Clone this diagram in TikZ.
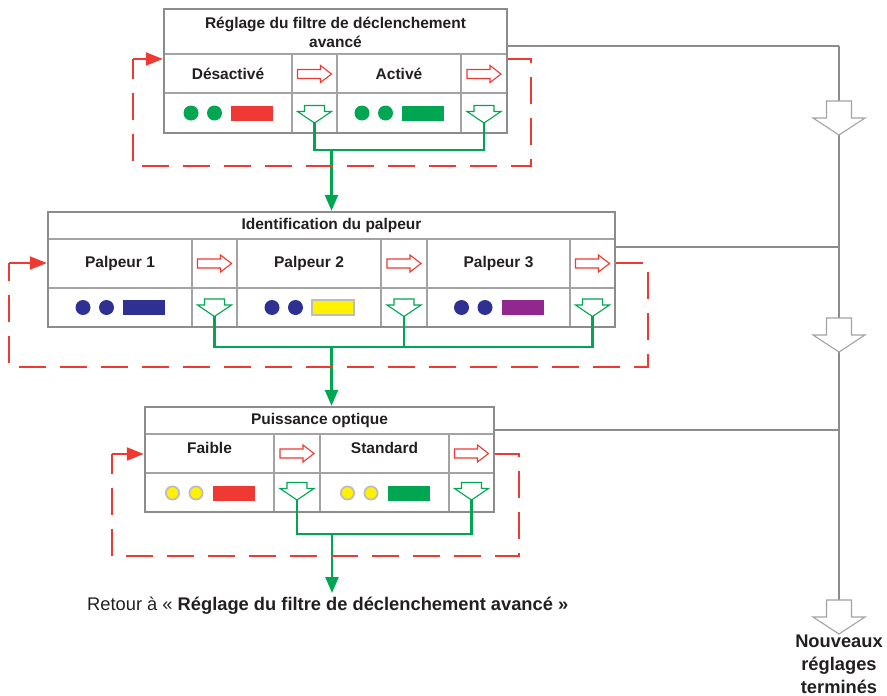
\documentclass[tikz,border=0pt]{standalone}
\usepackage{fontspec}
\setmainfont{Liberation Sans}
\usetikzlibrary{arrows.meta,fit}
\definecolor{gframe}{HTML}{8C8C8C}
\definecolor{ginner}{HTML}{A3A3A3}
\definecolor{rd}{HTML}{EE3A32}
\definecolor{gr}{HTML}{00A651}
\definecolor{nv}{HTML}{2E3192}
\definecolor{pu}{HTML}{92278F}
\definecolor{ye}{HTML}{FFF200}
\definecolor{lg}{HTML}{BDBDBD}
\definecolor{txt}{HTML}{231F20}
\newcommand\dotsrect[4]{%
  \path[#3] (#1-37,#2) circle[radius=7.5] (#1-13.5,#2) circle[radius=7.5];
  \path[#4] (#1+3,#2-7.5) rectangle (#1+45,#2+7.5);}
\newcommand\ydotsrect[3]{%
  \path[ydot] (#1-37,#2) circle[radius=6.6] (#1-13.5,#2) circle[radius=6.6];
  \path[#3] (#1+3,#2-7.5) rectangle (#1+45,#2+7.5);}
\begin{document}
\begin{tikzpicture}[x=1pt,y=-1pt,
  frame/.style={draw=gframe, line width=2.4, inner sep=0pt},
  inner/.style={draw=ginner, line width=1.3},
  lab/.style={font=\fontsize{15.5}{19}\selectfont\bfseries, text=txt, align=center, inner sep=0pt},
  big/.style={font=\fontsize{18.3}{23}\selectfont, text=txt, inner sep=0pt},
  gline/.style={draw=gr, line width=2.5},
  gtip/.style={-{Triangle[width=13,length=16]}},
  rdash/.style={draw=rd, line width=2.2, dash pattern=on 27 off 14, dash phase=0},
  rsol/.style={draw=rd, line width=2.2, -{Triangle[width=13,length=17]}},
  trunk/.style={draw=gframe, line width=2.4},
  rarr/.pic={\draw[rd, line width=1.1, fill=white] (-17,-4.5) -- (6,-4.5) -- (6,-8.5) -- (17,0) -- (6,8.5) -- (6,4.5) -- (-17,4.5) -- cycle;},
  darr/.pic={\draw[gr, line width=1.1, fill=white] (-10,-8.5) -- (10,-8.5) -- (10,-2.5) -- (17,-2.5) -- (0,9) -- (-17,-2.5) -- (-10,-2.5) -- cycle;},
  garr/.pic={\draw[ginner, line width=1.1, fill=white] (-12.5,-17) -- (12.5,-17) -- (12.5,0) -- (26,0) -- (0,17) -- (-26,0) -- (-12.5,0) -- cycle;},
  ydot/.style={fill=ye, draw=lg, line width=1.8}
]
\useasboundingbox (0,0) rectangle (887,696);

% ---------- gray trunk ----------
\coordinate (h1) at (839,46);
\coordinate (h2) at (839,247);
\coordinate (h3) at (839,430);
\coordinate (hend) at (839,600);

% ---------- Box 1 ----------
\draw[inner] (164,54) -- (507,54) (164,93) -- (507,93)
  (292,54) -- (292,133) (337,54) -- (337,133) (461,54) -- (461,133);
\node[frame, fit={(164,9)(507,133)}] (b1) {};
\node[lab] (t1) at (335.5,32) {Réglage du filtre de déclenchement\\avancé};
\node[lab] (c11) at (228,74) {Désactivé};
\node[lab] (c12) at (399,74) {Activé};
\pic at (314.5,74) {rarr};
\pic at (484,74) {rarr};
\pic at (314.5,114) {darr};
\pic at (484,114) {darr};
\dotsrect{228}{113}{fill=gr}{fill=rd}
\dotsrect{399}{113}{fill=gr}{fill=gr}

% ---------- Box 2 ----------
\draw[inner] (48,239) -- (615,239) (48,288) -- (615,288)
  (192,239) -- (192,327) (237,239) -- (237,327) (381,239) -- (381,327)
  (427,239) -- (427,327) (570,239) -- (570,327);
\node[frame, fit={(48,212)(615,327)}] (b2) {};
\node[lab] (t2) at (331.5,225.5) {Identification du palpeur};
\node[lab] (c21) at (120,263.5) {Palpeur 1};
\node[lab] (c22) at (309,263.5) {Palpeur 2};
\node[lab] (c23) at (498.5,263.5) {Palpeur 3};
\pic at (214.5,263.5) {rarr};
\pic at (404,263.5) {rarr};
\pic at (592.5,263.5) {rarr};
\pic at (214.5,307.5) {darr};
\pic at (404,307.5) {darr};
\pic at (592.5,307.5) {darr};
\dotsrect{120}{307.5}{fill=nv}{fill=nv}
\dotsrect{309}{307.5}{fill=nv}{fill=ye, draw=lg, line width=2}
\dotsrect{498.5}{307.5}{fill=nv}{fill=pu}

% ---------- Box 3 ----------
\draw[inner] (145,434) -- (494,434) (145,473) -- (494,473)
  (274,434) -- (274,512) (320,434) -- (320,512) (449,434) -- (449,512);
\node[frame, fit={(145,407)(494,512)}] (b3) {};
\node[lab] (t3) at (319.5,420.5) {Puissance optique};
\node[lab] (c31) at (209.5,448) {Faible};
\node[lab] (c32) at (384.5,448) {Standard};
\pic at (297,453.5) {rarr};
\pic at (471.5,453.5) {rarr};
\pic at (297,491) {darr};
\pic at (471.5,491) {darr};
\ydotsrect{209.5}{493}{fill=rd}
\ydotsrect{384.5}{493}{fill=gr}

% ---------- gray connectors ----------
\draw[trunk] (b1.east |- h1) -- (h1);
\draw[trunk] (b2.east |- h2) -- (h2);
\draw[trunk] (b3.east |- h3) -- (h3);
\draw[trunk] (h1) -- (hend);
\pic at (839,118) {garr};
\pic at (839,335) {garr};
\pic at (839,617) {garr};
\node[big, font=\fontsize{18.3}{23}\selectfont\bfseries, align=center] (fin) at (839,664) {Nouveaux\\réglages\\terminés};

% ---------- green connectors ----------
\coordinate (d11) at (314.5,123);
\coordinate (d12) at (484,123);
\coordinate (j1) at (331.5,150);
\draw[gline] (d11) |- (j1) -| (d12);
\draw[gline, gtip] (j1) -- (j1 |- b2.north);

\coordinate (d21) at (214.5,316);
\coordinate (d22) at (404,316);
\coordinate (d23) at (592.5,316);
\coordinate (j2) at (331.5,347);
\draw[gline] (d21) |- (j2) -| (d23);
\draw[gline] (d22) -- (d22 |- j2);
\draw[gline, gtip] (j2) -- (j2 |- b3.north);

\coordinate (d31) at (297,500);
\coordinate (d32) at (471.5,500);
\coordinate (j3) at (332,534);
\coordinate (e3) at (332,593);
\draw[gline] (d31) |- (j3) -| (d32);
\draw[gline, gtip] (j3) -- (e3);
\node[big, anchor=west] (ret) at (87,606) {Retour à « \textbf{Réglage du filtre de déclenchement avancé »}};

% ---------- red dashed loops ----------
\coordinate (r1a) at (531,59);
\coordinate (r1b) at (531,166);
\coordinate (r1c) at (133,166);
\coordinate (r1d) at (133,59);
\draw[rdash] (b1.east |- r1a) -- (r1a) -- (r1b) -- (r1c) -- (r1d);
\draw[rsol] (r1d) -- (r1d -| b1.west);

\coordinate (r2a) at (648,263);
\coordinate (r2b) at (648,367);
\coordinate (r2c) at (9,367);
\coordinate (r2d) at (9,263);
\draw[rdash] (b2.east |- r2a) -- (r2a) -- (r2b) -- (r2c) -- (r2d);
\draw[rsol] (r2d) -- (r2d -| b2.west);

\coordinate (r3a) at (519,454);
\coordinate (r3b) at (519,556);
\coordinate (r3c) at (112,556);
\coordinate (r3d) at (112,454);
\draw[rdash] (b3.east |- r3a) -- (r3a) -- (r3b) -- (r3c) -- (r3d);
\draw[rsol] (r3d) -- (r3d -| b3.west);
\end{tikzpicture}
\end{document}
